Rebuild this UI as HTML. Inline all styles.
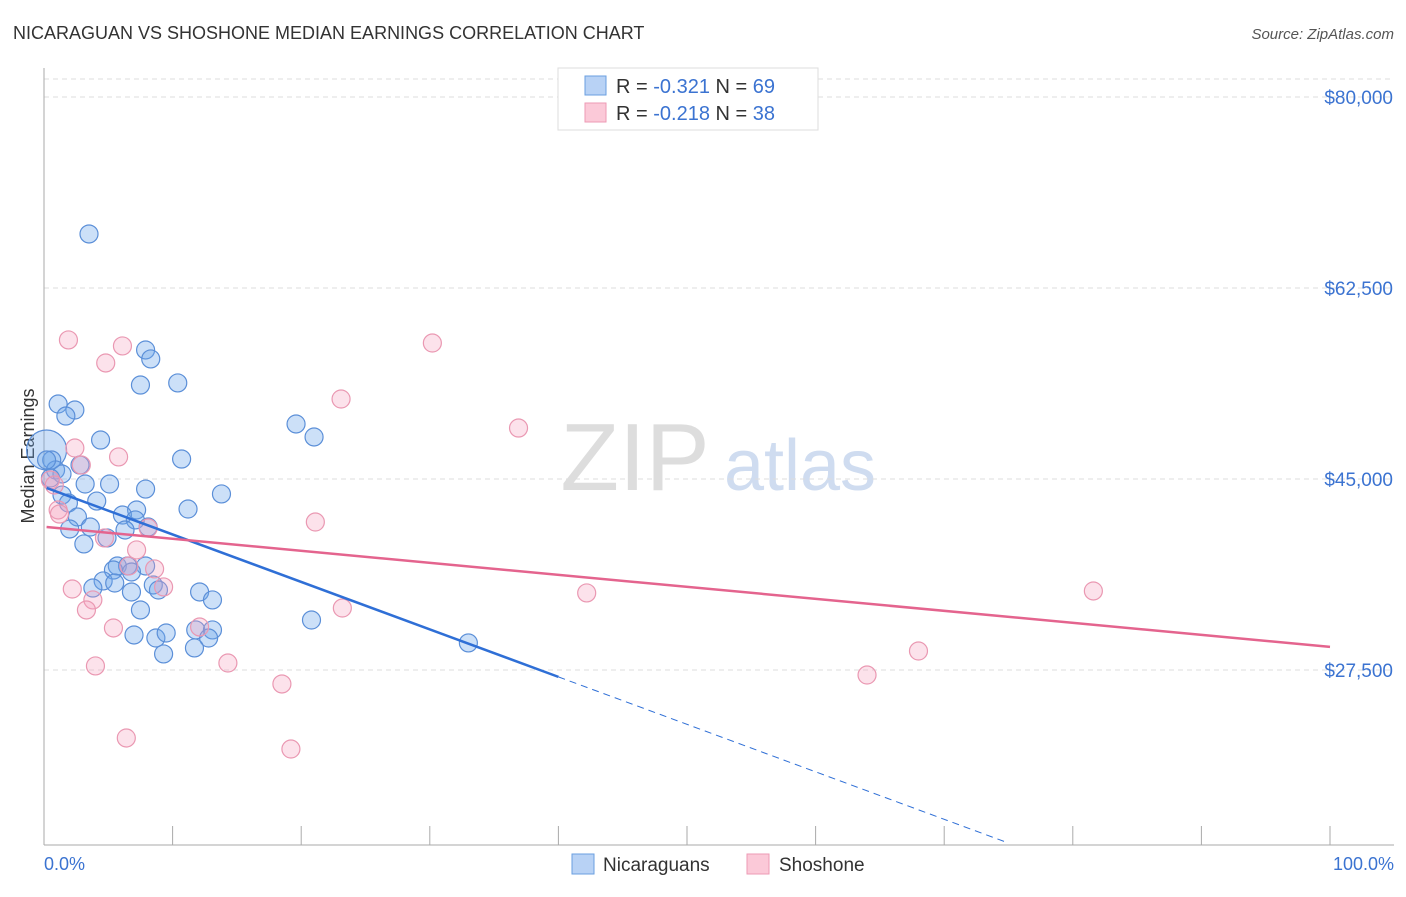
<!DOCTYPE html>
<html><head><meta charset="utf-8"><style>
body{margin:0;background:#fff;font-family:"Liberation Sans",sans-serif;}
svg text{font-family:"Liberation Sans",sans-serif;}
</style></head><body>
<svg id="chart" width="1406" height="892" xmlns="http://www.w3.org/2000/svg">
<text x="13" y="39" font-size="18" fill="#333">NICARAGUAN VS SHOSHONE MEDIAN EARNINGS CORRELATION CHART</text>
<text x="1394" y="39" font-size="15" fill="#555" text-anchor="end" font-style="italic">Source: ZipAtlas.com</text>
<text transform="translate(34,456) rotate(-90)" font-size="18" fill="#333" text-anchor="middle">Median Earnings</text>
<g><text x="635" y="490" font-size="96" fill="#ddd" font-family="Liberation Serif" text-anchor="middle">ZIP</text><text x="800" y="490" font-size="72" fill="#cfdcf0" text-anchor="middle">atlas</text></g>
<g id="grid"></g><g id="axes"></g><g id="pts"></g><g id="lines"></g>
<g>
<rect x="558" y="68" width="260" height="62" fill="#fff" stroke="#ddd"/>
<rect x="585" y="76" width="21" height="19" fill="#b8d2f5" stroke="#6a9fe0"/>
<rect x="585" y="103" width="21" height="19" fill="#fbc9d8" stroke="#ee9ab4"/>
<text x="616" y="93" font-size="20" fill="#333">R = <tspan fill="#3b73d1">-0.321</tspan>   N = <tspan fill="#3b73d1">69</tspan></text>
<text x="616" y="120" font-size="20" fill="#333">R = <tspan fill="#3b73d1">-0.218</tspan>   N = <tspan fill="#3b73d1">38</tspan></text>
</g>
<g>
<rect x="572" y="854" width="22" height="20" fill="#b8d2f5" stroke="#6a9fe0"/>
<text x="603" y="871" font-size="19" fill="#333">Nicaraguans</text>
<rect x="747" y="854" width="22" height="20" fill="#fbc9d8" stroke="#ee9ab4"/>
<text x="779" y="871" font-size="19" fill="#333">Shoshone</text>
</g>
<text x="44" y="870" font-size="18" fill="#3b73d1">0.0%</text>
<text x="1394" y="870" font-size="18" fill="#3b73d1" text-anchor="end">100.0%</text>
</svg>
<script>
const yTicks=[80000,62500,45000,27500];
const yTickLabels=["$80,000","$62,500","$45,000","$27,500"];
const blueX=[3.5,7.9,8.3,7.5,10.4,1.1,2.4,1.7,4.4,19.6,21.0,0.2,0.6,0.9,10.7,2.8,1.4,3.2,5.1,7.9,13.8,1.4,4.1,1.9,11.2,7.2,6.1,2.6,7.1,8.1,3.6,2.0,6.3,4.9,3.1,5.7,6.5,5.4,7.9,6.8,4.6,5.5,3.8,8.5,8.9,6.8,7.5,12.1,13.1,7.0,8.7,9.5,11.8,13.1,12.8,11.7,9.3,20.8,33.0,0.2,0.5];
const blueY=[67450,56820,56000,53610,53800,51870,51320,50770,48570,50040,48850,47660,46740,45830,46830,46280,45460,44540,44540,44080,43630,43530,42980,42800,42250,42160,41700,41520,41250,40600,40600,40420,40330,39600,39050,37030,37030,36660,37030,36480,35660,35470,35010,35290,34830,34650,33000,34650,33920,30710,30430,30890,31170,31170,30430,29520,28970,32080,29980,46740,45090];
const pinkX=[1.9,6.1,4.8,30.2,23.1,36.9,2.4,5.8,2.9,0.5,1.1,21.1,8.1,4.7,7.2,6.6,8.6,9.3,2.2,3.8,3.3,5.4,12.1,23.2,42.2,81.6,4.0,14.3,18.5,68.0,64.0,6.4,19.2,1.2,0.8];
const pinkY=[57740,57190,55630,57460,52330,49670,47840,47020,46280,44910,42160,41060,40510,39600,38500,37030,36760,35110,34920,33920,33000,31350,31440,33180,34560,34740,27870,28140,26220,29240,27040,21270,20260,41790,44450];
const blueLine=[44270,-435];
const pinkLine=[40620,-110];
const X=p=>44+p*12.86, Y=v=>97+(80000-v)*191/17500;
const NS="http://www.w3.org/2000/svg";
function mk(t,a,parent){const e=document.createElementNS(NS,t);for(const k in a)e.setAttribute(k,a[k]);document.getElementById(parent).appendChild(e);return e;}
let g=mk('line',{x1:44,x2:1394,y1:79,y2:79,stroke:'#ddd','stroke-dasharray':'5,4'},'grid');


yTicks.forEach((v,i)=>{
 const l=mk('line',{x1:44,x2:1394,y1:Y(v),y2:Y(v),stroke:'#ddd','stroke-dasharray':'5,4'},'grid');
 
 
 const t=mk('text',{x:1393,y:Y(v)+7,'font-size':19,fill:'#3b73d1','text-anchor':'end'},'grid');
 
 
 t.textContent=yTickLabels[i];
});
let a=mk('line',{x1:44,x2:44,y1:68,y2:845,stroke:'#aaa'},'axes');


a=mk('line',{x1:44,x2:1394,y1:845,y2:845,stroke:'#aaa'},'axes');


for(let i=0;i<=10;i++){const t=mk('line',{x1:X(i*10),x2:X(i*10),y1:826,y2:845,stroke:'#aaa'},'axes');
 
 }
blueX.forEach((x,i)=>{const c=mk('circle',{cx:X(x),cy:Y(blueY[i]),r:i==11?20:9,fill:'rgba(110,165,235,0.35)',stroke:'#5b8fd8','stroke-width':1.2},'pts');
 
 });
pinkX.forEach((x,i)=>{const c=mk('circle',{cx:X(x),cy:Y(pinkY[i]),r:9,fill:'rgba(245,160,190,0.3)',stroke:'#ea98b2','stroke-width':1.2},'pts');
 
 });
const f=(L,x)=>L[0]+L[1]*x;
let r=mk('line',{x1:X(0.2),y1:Y(f(blueLine,0.2)),x2:X(40),y2:Y(f(blueLine,40)),stroke:'#2f6fd6','stroke-width':2.5},'lines');


r=mk('line',{x1:X(40),y1:Y(f(blueLine,40)),x2:X(75),y2:Y(f(blueLine,75)),stroke:'#2f6fd6','stroke-width':1,'stroke-dasharray':'7,5'},'lines');


r=mk('line',{x1:X(0.2),y1:Y(f(pinkLine,0.2)),x2:X(100),y2:Y(f(pinkLine,100)),stroke:'#e4648e','stroke-width':2.5},'lines');


</script>
</body></html>
